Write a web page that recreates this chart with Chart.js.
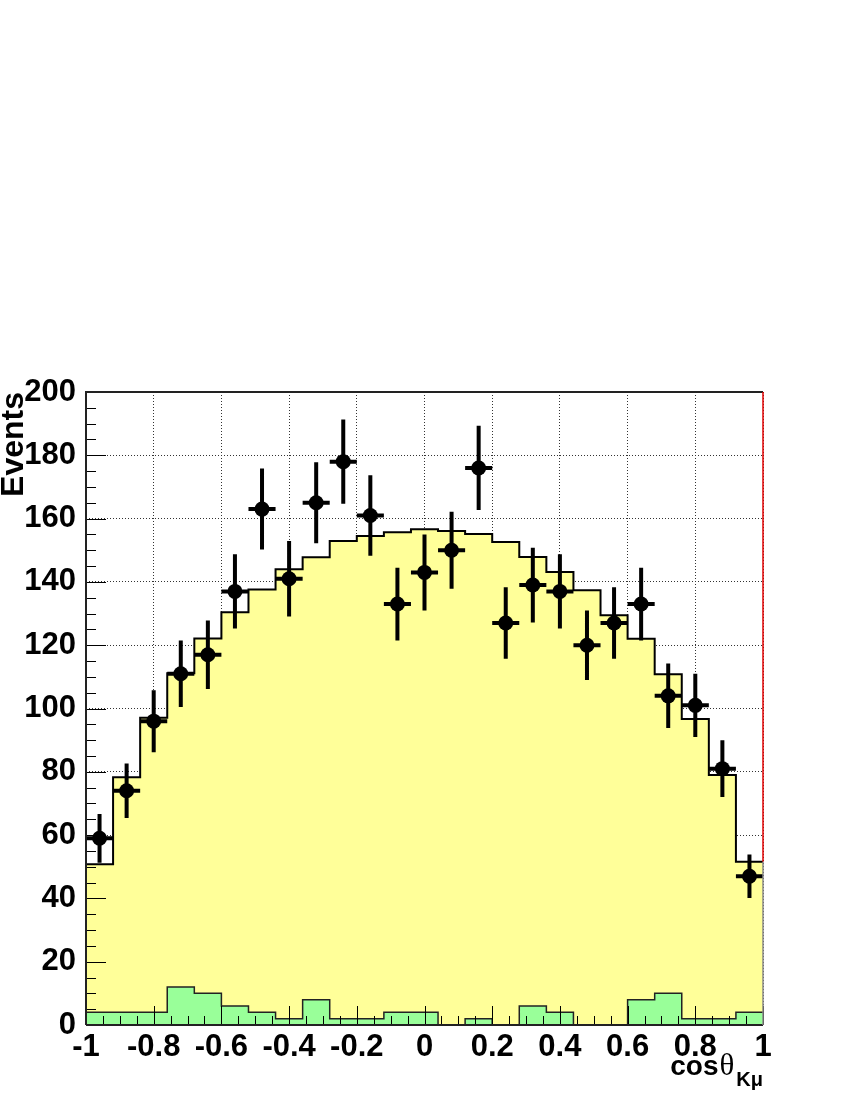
<!DOCTYPE html>
<html><head><meta charset="utf-8">
<script src="https://cdn.jsdelivr.net/npm/chart.js@4.4.1/dist/chart.umd.min.js"></script>
<style>html,body{margin:0;padding:0;background:#fff}canvas{display:block}</style>
</head><body>
<canvas id="c" width="850" height="1100"></canvas>
<script>
const binEdges = [-1,-0.92,-0.84,-0.76,-0.68,-0.6,-0.52,-0.44,-0.36,-0.28,-0.2,-0.12,-0.04,0.04,0.12,0.2,0.28,0.36,0.44,0.52,0.6,0.68,0.76,0.84,0.92,1];
const binCenters = [-0.96,-0.88,-0.8,-0.72,-0.64,-0.56,-0.48,-0.4,-0.32,-0.24,-0.16,-0.08,0,0.08,0.16,0.24,0.32,0.4,0.48,0.56,0.64,0.72,0.8,0.88,0.96];
const dataCounts = [59,74,96,111,117,137,163,141,165,178,161,133,143,150,176,127,139,137,120,127,133,104,101,81,47];
const dataErrors = [7.7,8.6,9.8,10.5,10.8,11.7,12.8,11.9,12.8,13.3,12.7,11.5,12.0,12.2,13.3,11.3,11.8,11.7,11.0,11.3,11.5,10.2,10.0,9.0,6.9];
const totalMC = [50.8,78.3,97.1,111.1,122.1,130.4,137.6,144.0,147.8,152.9,154.5,155.7,156.6,156.1,155.1,152.6,147.9,143.1,137.4,129.5,122.0,110.8,96.7,79.0,51.6];
const background = [4,4,4,12,10,6,4,2,8,2,2,4,4,0,2,0,6,4,0,0,8,10,2,2,4];
const xTickValues = [-1,-0.8,-0.6,-0.4,-0.2,0,0.2,0.4,0.6,0.8,1];
const xTickLabels = ['-1','-0.8','-0.6','-0.4','-0.2','0','0.2','0.4','0.6','0.8','1'];
const yTickValues = [0,20,40,60,80,100,120,140,160,180,200];
const yTickLabels = ['0','20','40','60','80','100','120','140','160','180','200'];
const yTitle = 'Events';
const xTitleMain = 'cos';
const xTitleSymbol = 'θ';
const xTitleSub = 'Kμ';

function histPoints(vals) {
  return binEdges.map((e, i) => ({x: e, y: i < vals.length ? vals[i] : vals[vals.length - 1]}));
}

const decor = {
  id: 'decor',
  afterDatasetsDraw(chart) {
    const {ctx, chartArea: a, scales: {x, y}} = chart;
    ctx.save();
    ctx.strokeStyle = '#000';
    ctx.lineWidth = 1;
    ctx.beginPath();
    for (let k = 0; k <= 40; k++) {
      const px = Math.round(x.getPixelForValue(-1 + k * 0.05)) + 0.5;
      const len = (k % 4 === 0) ? 19 : 9;
      ctx.moveTo(px, a.bottom);
      ctx.lineTo(px, a.bottom - len);
    }
    for (let k = 0; k <= 40; k++) {
      const py = Math.round(y.getPixelForValue(k * 5)) + 0.5;
      const len = (k % 4 === 0) ? 20 : 10;
      ctx.moveTo(a.left, py);
      ctx.lineTo(a.left + len, py);
    }
    ctx.stroke();
    ctx.lineWidth = 4;
    ctx.lineCap = 'butt';
    ctx.beginPath();
    for (let i = 0; i < dataCounts.length; i++) {
      const cx = x.getPixelForValue(binCenters[i]);
      const cy = y.getPixelForValue(dataCounts[i]);
      ctx.moveTo(cx, y.getPixelForValue(dataCounts[i] + dataErrors[i]));
      ctx.lineTo(cx, y.getPixelForValue(dataCounts[i] - dataErrors[i]));
      ctx.moveTo(x.getPixelForValue(binEdges[i]), cy);
      ctx.lineTo(x.getPixelForValue(binEdges[i + 1]), cy);
    }
    ctx.stroke();
    ctx.lineWidth = 2;
    ctx.strokeStyle = '#222';
    ctx.beginPath();
    ctx.moveTo(a.left, a.bottom);
    ctx.lineTo(a.left, a.top);
    ctx.lineTo(a.right, a.top);
    ctx.moveTo(a.left, a.bottom);
    ctx.lineTo(a.right, a.bottom);
    ctx.stroke();
    const yr = y.getPixelForValue(totalMC[totalMC.length - 1]);
    ctx.lineWidth = 1.5;
    ctx.strokeStyle = '#e00000';
    ctx.beginPath();
    ctx.moveTo(a.right, a.top);
    ctx.lineTo(a.right, yr);
    ctx.stroke();
    ctx.strokeStyle = '#888';
    ctx.beginPath();
    ctx.moveTo(a.right, yr);
    ctx.lineTo(a.right, a.bottom);
    ctx.stroke();
    ctx.restore();
  },
  afterDraw(chart) {
    const {ctx, chartArea: a} = chart;
    ctx.save();
    ctx.fillStyle = '#000';
    ctx.textBaseline = 'alphabetic';
    const f1 = 'bold 28px "Liberation Sans"';
    const f2 = '31px "Liberation Serif"';
    const f3 = 'bold 20px "Liberation Sans"';
    ctx.font = f1; const w1 = ctx.measureText(xTitleMain).width;
    ctx.font = f2; const w2 = ctx.measureText(xTitleSymbol).width;
    ctx.font = f3; const w3 = ctx.measureText(xTitleSub).width;
    let sx = a.right - (w1 + w2 + 3 + w3);
    const base = 1075;
    ctx.font = f1; ctx.fillText(xTitleMain, sx, base); sx += w1 + 1;
    ctx.font = f2; ctx.fillText(xTitleSymbol, sx, base); sx += w2 + 2;
    ctx.font = f3; ctx.fillText(xTitleSub, sx, base + 11);
    ctx.restore();
  }
};

new Chart(document.getElementById('c'), {
  type: 'scatter',
  data: {
    datasets: [
      {
        label: 'Data',
        data: binCenters.map((c, i) => ({x: c, y: dataCounts[i]})),
        pointRadius: 7.5,
        pointBorderWidth: 0,
        pointBackgroundColor: '#000',
        showLine: false,
        order: 0
      },
      {
        label: 'Background',
        type: 'line',
        data: histPoints(background),
        stepped: true,
        fill: 'origin',
        backgroundColor: '#99ff99',
        borderColor: '#222',
        borderWidth: 1.5,
        pointRadius: 0,
        order: 1
      },
      {
        label: 'Total MC',
        type: 'line',
        data: histPoints(totalMC),
        stepped: true,
        fill: 'origin',
        backgroundColor: '#ffff99',
        borderColor: '#000',
        borderWidth: 2,
        pointRadius: 0,
        order: 2
      }
    ]
  },
  options: {
    responsive: false,
    animation: false,
    devicePixelRatio: 1,
    layout: {padding: {top: 392, right: 87, bottom: 0, left: 0}},
    plugins: {legend: {display: false}, tooltip: {enabled: false}},
    scales: {
      x: {
        type: 'linear',
        min: -1, max: 1,
        afterBuildTicks: s => { s.ticks = xTickValues.map(v => ({value: v})); },
        afterFit: s => { s.height = 75; },
        ticks: {
          autoSkip: false, maxRotation: 0,
          padding: 4,
          color: '#000',
          font: {family: '"Liberation Sans"', weight: 'bold', size: 31},
          callback: (v, i) => xTickLabels[i]
        },
        grid: {color: '#333', lineWidth: 1, drawTicks: false},
        border: {display: false, dash: [1, 2]}
      },
      y: {
        type: 'linear',
        min: 0, max: 200,
        afterBuildTicks: s => { s.ticks = yTickValues.map(v => ({value: v})); },
        afterFit: s => { s.width = 86; },
        ticks: {
          autoSkip: false,
          padding: 10,
          color: '#000',
          font: {family: '"Liberation Sans"', weight: 'bold', size: 31},
          callback: (v, i) => yTickLabels[i]
        },
        grid: {color: '#333', lineWidth: 1, drawTicks: false},
        border: {display: false, dash: [1, 2]},
        title: {
          display: true,
          text: yTitle,
          align: 'end',
          color: '#000',
          font: {family: '"Liberation Sans"', weight: 'bold', size: 32, lineHeight: 0.9},
          padding: {top: 0, bottom: 0}
        }
      }
    }
  },
  plugins: [decor]
});
</script>
</body></html>
